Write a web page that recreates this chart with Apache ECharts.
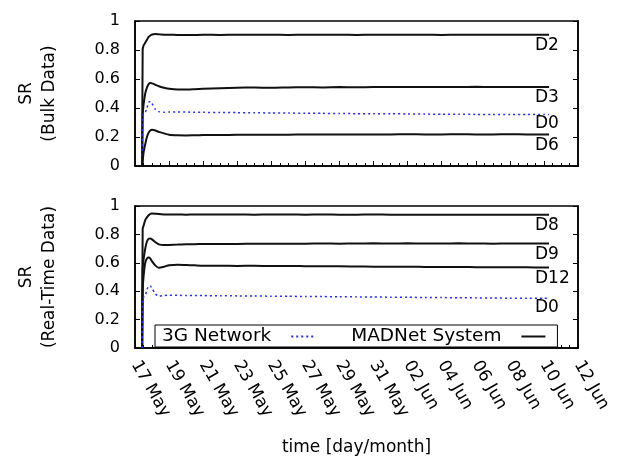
<!DOCTYPE html>
<html>
<head>
<meta charset="utf-8">
<script src="https://cdn.jsdelivr.net/npm/echarts@6/dist/echarts.min.js"></script>
<style>
  html, body { margin: 0; padding: 0; background: #fff; }
  #chart { width: 622px; height: 457px; }
</style>
</head>
<body>
<div id="chart"></div>
<script>
// time in days after 17 May 00:00
var days = [0.42, 0.45, 0.5, 0.6, 0.7, 0.8, 0.9, 1.0, 1.2, 1.4, 1.7, 2.0, 2.5, 3.0, 3.5,
    4, 5, 6, 7, 8, 9, 10, 11, 12, 13, 14, 15, 16, 17, 18, 19, 20, 21, 22, 23, 24, 24.3];

var tickLabels = ['17 May', '19 May', '21 May', '23 May', '25 May', '27 May', '29 May',
    '31 May', '02 Jun', '04 Jun', '06 Jun', '08 Jun', '10 Jun', '12 Jun'];

// bulk data
var bulkD2 = [0, 0.80, 0.83, 0.85, 0.87, 0.89, 0.90, 0.907, 0.91, 0.908, 0.906, 0.905, 0.904, 0.903, 0.904,
    0.905, 0.904, 0.905, 0.906, 0.905, 0.904, 0.905, 0.906, 0.905, 0.904, 0.905, 0.905, 0.906, 0.905, 0.904,
    0.905, 0.905, 0.906, 0.905, 0.905, 0.905, 0.905];
var bulkD3 = [0, 0.35, 0.42, 0.50, 0.54, 0.565, 0.572, 0.57, 0.56, 0.55, 0.54, 0.532, 0.527, 0.527, 0.53,
    0.533, 0.537, 0.54, 0.541, 0.54, 0.542, 0.543, 0.542, 0.544, 0.543, 0.544, 0.545, 0.544, 0.545, 0.544,
    0.545, 0.546, 0.545, 0.545, 0.544, 0.545, 0.545];
var bulkD0 = [0, 0.33, 0.36, 0.37, 0.40, 0.44, 0.445, 0.43, 0.39, 0.375, 0.37, 0.372, 0.373, 0.372, 0.371,
    0.37, 0.369, 0.368, 0.367, 0.366, 0.365, 0.364, 0.363, 0.362, 0.361, 0.36, 0.36, 0.359, 0.358, 0.357,
    0.357, 0.356, 0.356, 0.355, 0.355, 0.355, 0.355];
var bulkD6 = [0, 0.03, 0.09, 0.15, 0.20, 0.23, 0.245, 0.25, 0.245, 0.235, 0.225, 0.216, 0.212, 0.211, 0.212,
    0.213, 0.214, 0.215, 0.215, 0.216, 0.216, 0.217, 0.217, 0.218, 0.217, 0.218, 0.218, 0.219, 0.218, 0.218,
    0.219, 0.218, 0.218, 0.219, 0.218, 0.218, 0.218];

// real-time data
var rtD8 = [0, 0.84, 0.86, 0.90, 0.92, 0.935, 0.945, 0.948, 0.946, 0.943, 0.941, 0.94, 0.94, 0.939, 0.94,
    0.94, 0.941, 0.94, 0.939, 0.94, 0.94, 0.939, 0.94, 0.939, 0.939, 0.94, 0.939, 0.938, 0.939, 0.939,
    0.938, 0.939, 0.938, 0.938, 0.939, 0.938, 0.938];
var rtD9 = [0, 0.55, 0.62, 0.70, 0.75, 0.77, 0.772, 0.765, 0.745, 0.73, 0.725, 0.726, 0.728, 0.73, 0.731,
    0.732, 0.733, 0.733, 0.734, 0.735, 0.734, 0.735, 0.736, 0.735, 0.736, 0.737, 0.736, 0.737, 0.736, 0.736,
    0.737, 0.736, 0.735, 0.736, 0.736, 0.736, 0.736];
var rtD12 = [0, 0.40, 0.50, 0.60, 0.63, 0.637, 0.63, 0.61, 0.58, 0.565, 0.572, 0.583, 0.586, 0.584, 0.582,
    0.58, 0.579, 0.578, 0.579, 0.577, 0.578, 0.576, 0.575, 0.576, 0.574, 0.573, 0.572, 0.573, 0.571, 0.57,
    0.571, 0.569, 0.568, 0.569, 0.568, 0.567, 0.567];
var rtD0 = [0, 0.34, 0.357, 0.37, 0.41, 0.437, 0.437, 0.42, 0.38, 0.365, 0.37, 0.372, 0.371, 0.37, 0.37,
    0.369, 0.368, 0.367, 0.366, 0.365, 0.364, 0.363, 0.362, 0.361, 0.36, 0.359, 0.358, 0.357, 0.356, 0.355,
    0.354, 0.353, 0.352, 0.351, 0.351, 0.35, 0.35];

var FONT = 'DejaVu Sans';
var myChart = echarts.init(document.getElementById('chart'), null, {renderer: 'canvas'});

function pairs(vals) {
    return days.map(function (d, i) { return [d, vals[i]]; });
}

function xAxisFor(grid, withLabels) {
    return {
        type: 'value',
        gridIndex: grid,
        min: 0,
        max: 26,
        interval: 2,
        axisLine: {lineStyle: {color: '#000', width: 1.5}},
        axisTick: {inside: true, length: 5, lineStyle: {color: '#000', width: 1}},
        minorTick: {show: true, splitNumber: 4, length: 3, lineStyle: {color: '#000', width: 1}},
        splitLine: {show: false},
        axisLabel: {
            show: withLabels,
            rotate: -60,
            margin: 14,
            color: '#000',
            fontSize: 17,
            fontFamily: FONT,
            formatter: function (v) { return tickLabels[Math.round(v / 2)]; }
        },
        name: withLabels ? 'time [day/month]' : '',
        nameLocation: 'middle',
        nameGap: 91,
        nameTextStyle: {color: '#000', fontSize: 17, fontFamily: FONT}
    };
}

function yAxisFor(grid, title) {
    return {
        type: 'value',
        gridIndex: grid,
        min: 0,
        max: 1,
        interval: 0.2,
        axisLine: {show: true, lineStyle: {color: '#000', width: 1.5}},
        axisTick: {show: true, inside: true, length: 5, lineStyle: {color: '#000'}},
        splitLine: {show: false},
        axisLabel: {color: '#000', fontSize: 16, fontFamily: FONT, margin: 15},
        name: title,
        nameLocation: 'middle',
        nameRotate: 90,
        nameGap: 74,
        nameTextStyle: {color: '#000', fontSize: 17, fontFamily: FONT, lineHeight: 23, align: 'center'}
    };
}

function rightAxisFor(grid) {
    return {
        type: 'value',
        gridIndex: grid,
        position: 'right',
        min: 0,
        max: 1,
        interval: 0.2,
        axisLine: {show: true, lineStyle: {color: '#000', width: 1.5}},
        axisTick: {show: true, inside: true, length: 5, lineStyle: {color: '#000'}},
        axisLabel: {show: false},
        splitLine: {show: false}
    };
}

function madnet(xi, yi, vals, tag) {
    return {
        name: 'MADNet System',
        type: 'line',
        xAxisIndex: xi,
        yAxisIndex: yi,
        showSymbol: false,
        symbol: 'none',
        smooth: 0.2,
        lineStyle: {color: '#111', width: 2},
        itemStyle: {color: '#111'},
        endLabel: {show: true, formatter: tag, offset: [-22, 11], color: '#000', fontSize: 17, fontFamily: FONT},
        data: pairs(vals)
    };
}

function network3g(xi, yi, vals, tag) {
    return {
        name: '3G Network',
        type: 'line',
        xAxisIndex: xi,
        yAxisIndex: yi,
        showSymbol: false,
        symbol: 'none',
        smooth: 0.2,
        lineStyle: {color: '#2b2bff', width: 1.5, type: [2, 3]},
        itemStyle: {color: '#2b2bff'},
        endLabel: {show: true, formatter: tag, offset: [-22, 9], color: '#000', fontSize: 17, fontFamily: FONT},
        data: pairs(vals)
    };
}

var option = {
    animation: false,
    backgroundColor: '#fff',
    grid: [
        {left: 135, right: 44, top: 21, bottom: 291, show: true, borderColor: '#000', borderWidth: 1.5},
        {left: 135, right: 44, top: 206, bottom: 105, show: true, borderColor: '#000', borderWidth: 1.5}
    ],
    legend: {
        data: ['3G Network', 'MADNet System'],
        left: 155,
        top: 325,
        align: 'right',
        itemWidth: 24,
        itemHeight: 14,
        itemGap: 35,
        itemStyle: {opacity: 0},
        backgroundColor: '#fff',
        borderColor: '#000',
        borderWidth: 1,
        borderRadius: 0,
        padding: [2, 11, 1, 7],
        textStyle: {color: '#000', fontSize: 18.5, fontFamily: FONT, padding: [0, 15, 0, 0]}
    },
    xAxis: [xAxisFor(0, false), xAxisFor(1, true)],
    yAxis: [
        yAxisFor(0, 'SR\n(Bulk Data)'),
        yAxisFor(1, 'SR\n(Real-Time Data)'),
        rightAxisFor(0),
        rightAxisFor(1)
    ],
    series: [
        madnet(0, 0, bulkD2, 'D2'),
        madnet(0, 0, bulkD3, 'D3'),
        network3g(0, 0, bulkD0, 'D0'),
        madnet(0, 0, bulkD6, 'D6'),
        madnet(1, 1, rtD8, 'D8'),
        madnet(1, 1, rtD9, 'D9'),
        madnet(1, 1, rtD12, 'D12'),
        network3g(1, 1, rtD0, 'D0')
    ]
};
myChart.setOption(option, true);
</script>
</body>
</html>
